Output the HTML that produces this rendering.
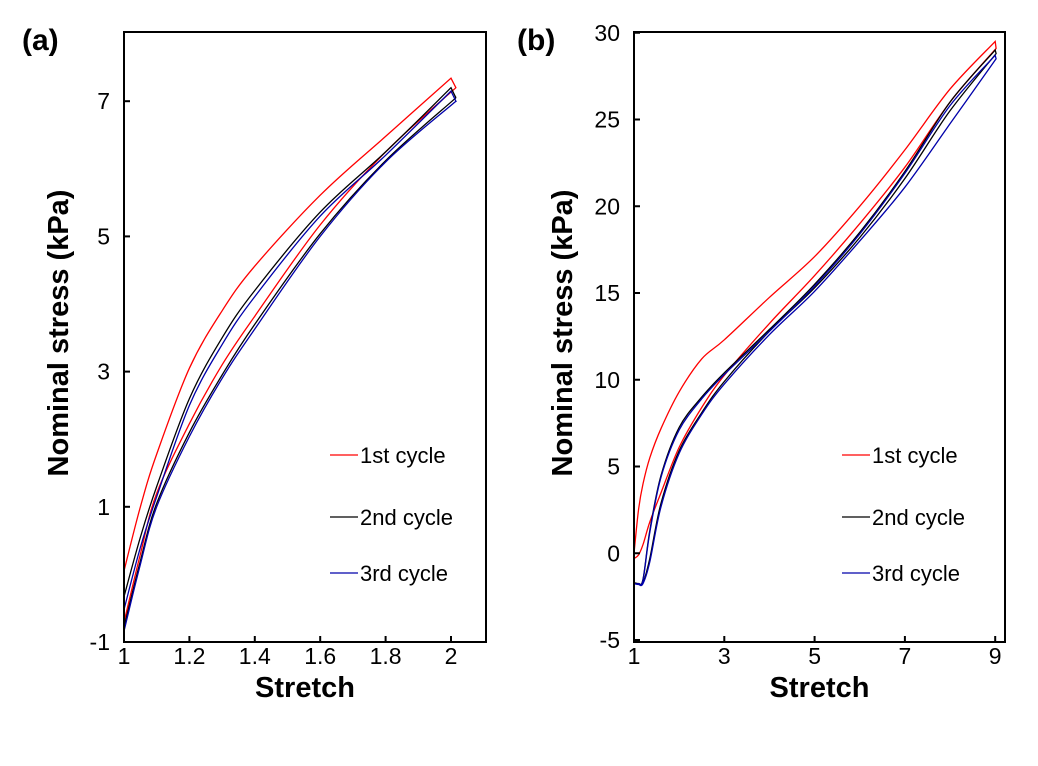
<!DOCTYPE html>
<html><head><meta charset="utf-8"><style>
html,body{margin:0;padding:0;background:#fff;width:1038px;height:766px;overflow:hidden}
svg{display:block;font-family:"Liberation Sans",Arial,sans-serif}
</style></head><body>
<svg id="chart" width="1038" height="766" viewBox="0 0 1038 766" xmlns="http://www.w3.org/2000/svg"></svg>
<script>
// Panel (a) data
const aXTicks=[1,1.2,1.4,1.6,1.8,2];
const aYTicks=[-1,1,3,5,7];
const aX=[1,1.05,1.1,1.2,1.3,1.4,1.6,1.8,2.0];
const aRedUp=[0.05,1.0,1.78,3.05,3.9,4.56,5.61,6.48,7.34];
const aRedDn=[-0.71,0.3,1.2,2.23,3.1,3.82,5.17,6.25,7.2];
const aBlackUp=[-0.33,0.55,1.3,2.6,3.5,4.2,5.36,6.25,7.2];
const aBlackDn=[-0.78,0.2,1.05,2.1,2.95,3.7,5.04,6.12,7.05];
const aBlueUp=[-0.52,0.4,1.15,2.5,3.4,4.11,5.3,6.2,7.15];
const aBlueDn=[-0.84,0.15,1.0,2.04,2.9,3.63,5.0,6.1,7.0];
// Panel (b) data
const bXTicks=[1,3,5,7,9];
const bYTicks=[-5,0,5,10,15,20,25,30];
const bX=[1,1.1,1.2,1.35,1.6,2,2.5,3,4,5,6,7,8,9];
const bRedUp=[0,2.5,4.0,5.5,7.2,9.3,11.2,12.3,14.75,17.1,20,23.25,26.75,29.5];
const bRedDn=[-0.3,-0.1,0.5,1.8,3.5,6.1,8.4,10.25,13.25,16,19,22.25,26,29.1];
const bBlackUp=[-1.7,-1.75,-1.5,1.3,4.5,7.25,9,10.4,12.9,15.5,18.5,22,26,29];
const bBlackDn=[-1.7,-1.75,-1.7,-0.3,2.9,5.9,8.1,9.9,12.8,15.3,18.2,21.6,25.5,28.8];
const bBlueUp=[-1.75,-1.75,-1.55,1.2,4.4,7.1,8.9,10.3,12.8,15.4,18.4,21.9,25.8,28.7];
const bBlueDn=[-1.75,-1.8,-1.75,-0.5,2.7,5.75,8.0,9.75,12.6,15.1,18,21.1,24.75,28.5];
const legendLabels=["1st cycle","2nd cycle","3rd cycle"];

const NS="http://www.w3.org/2000/svg";
const svg=document.getElementById('chart');
function mk(t,a,parent){const e=document.createElementNS(NS,t);for(const k in a)e.setAttribute(k,a[k]);(parent||svg).appendChild(e);return e;}
function smooth(pts){let d="M"+pts[0][0].toFixed(1)+","+pts[0][1].toFixed(1);
 for(let i=0;i<pts.length-1;i++){const p0=pts[i-1]||pts[i],p1=pts[i],p2=pts[i+1],p3=pts[i+2]||p2;
  const c1=[p1[0]+(p2[0]-p0[0])/6,p1[1]+(p2[1]-p0[1])/6],c2=[p2[0]-(p3[0]-p1[0])/6,p2[1]-(p3[1]-p1[1])/6];
  d+="C"+c1.map(v=>v.toFixed(1))+" "+c2.map(v=>v.toFixed(1))+" "+p2.map(v=>v.toFixed(1));}
 return d;}

function panel(o){
 const g=mk('g',{});
 
 
 const sx=v=>o.L+(v-o.x0)*(o.xs), sy=v=>o.y0p-(v-o.y0)*o.ys;
 o.series.forEach(s=>{
  const up=o.xs_.map((x,i)=>[sx(x),sy(s.up[i])]);
  const dn=o.xs_.map((x,i)=>[sx(x+(i==o.xs_.length-1?o.endDx:0)),sy(s.dn[i])]);
  const p=mk('path',{d:smooth(up)+" L"+dn[dn.length-1].join(",")+" "+smooth(dn.slice().reverse()).replace(/^M/,"L"),fill:"none",stroke:s.c,"stroke-width":1.3},g);
  
  
 });
 const ax=mk('rect',{x:o.L,y:o.T,width:o.R-o.L,height:o.B-o.T,fill:"none",stroke:"#000","stroke-width":2},g);
 
 
 o.xt.forEach(v=>{const x=sx(v);mk('line',{x1:x,x2:x,y1:o.B,y2:o.B-6,stroke:"#000","stroke-width":2},g);
  const t=mk('text',{x:x,y:o.B+22,"text-anchor":"middle","font-size":23},g);t.textContent=v;
  
  });
 o.yt.forEach(v=>{const y=sy(v);mk('line',{x1:o.L,x2:o.L+6,y1:y,y2:y,stroke:"#000","stroke-width":2},g);
  const t=mk('text',{x:o.L-14,y:y+8,"text-anchor":"end","font-size":23},g);t.textContent=v;
  
  });
 const xt=mk('text',{x:(o.L+o.R)/2,y:697,"text-anchor":"middle","font-size":29,"font-weight":"bold"},g);xt.textContent="Stretch";
 
 
 const yt=mk('text',{x:0,y:0,"text-anchor":"middle","font-size":29,"font-weight":"bold",transform:`translate(${o.yTx},${(o.T+o.B)/2-4}) rotate(-90)`},g);yt.textContent="Nominal stress (kPa)";
 
 
 const pl=mk('text',{x:o.lblX,y:50,"font-size":30,"font-weight":"bold"},g);pl.textContent=o.lbl;
 
 
 [455,517,573].forEach((y,i)=>{
  const lg=mk('g',{},g);
  
  
  mk('line',{x1:o.legX,x2:o.legX+28,y1:y,y2:y,stroke:o.series[i].c,"stroke-width":1.3},lg);
  const t=mk('text',{x:o.legX+30,y:y+8,"font-size":22},lg);t.textContent=legendLabels[i];
 });
}
panel({name:'panel-a',L:124,R:486,T:32,B:642,x0:1,xs:327,y0:-1,y0p:642,ys:67.6,xs_:aX,endDx:0.015,
 xt:aXTicks,yt:aYTicks,yTx:68,lbl:"(a)",lblX:22,legX:330,
 series:[{n:'cycle-1-line',c:"#ff0000",up:aRedUp,dn:aRedDn},{n:'cycle-2-line',c:"#000000",up:aBlackUp,dn:aBlackDn},{n:'cycle-3-line',c:"#0000aa",up:aBlueUp,dn:aBlueDn}]});
panel({name:'panel-b',L:634,R:1005,T:32,B:642,x0:1,xs:45.15,y0:-5,y0p:640,ys:17.35,xs_:bX,endDx:0.02,
 xt:bXTicks,yt:bYTicks,yTx:572,lbl:"(b)",lblX:517,legX:842,
 series:[{n:'cycle-1-line',c:"#ff0000",up:bRedUp,dn:bRedDn},{n:'cycle-2-line',c:"#000000",up:bBlackUp,dn:bBlackDn},{n:'cycle-3-line',c:"#0000aa",up:bBlueUp,dn:bBlueDn}]});
</script>
</body></html>
